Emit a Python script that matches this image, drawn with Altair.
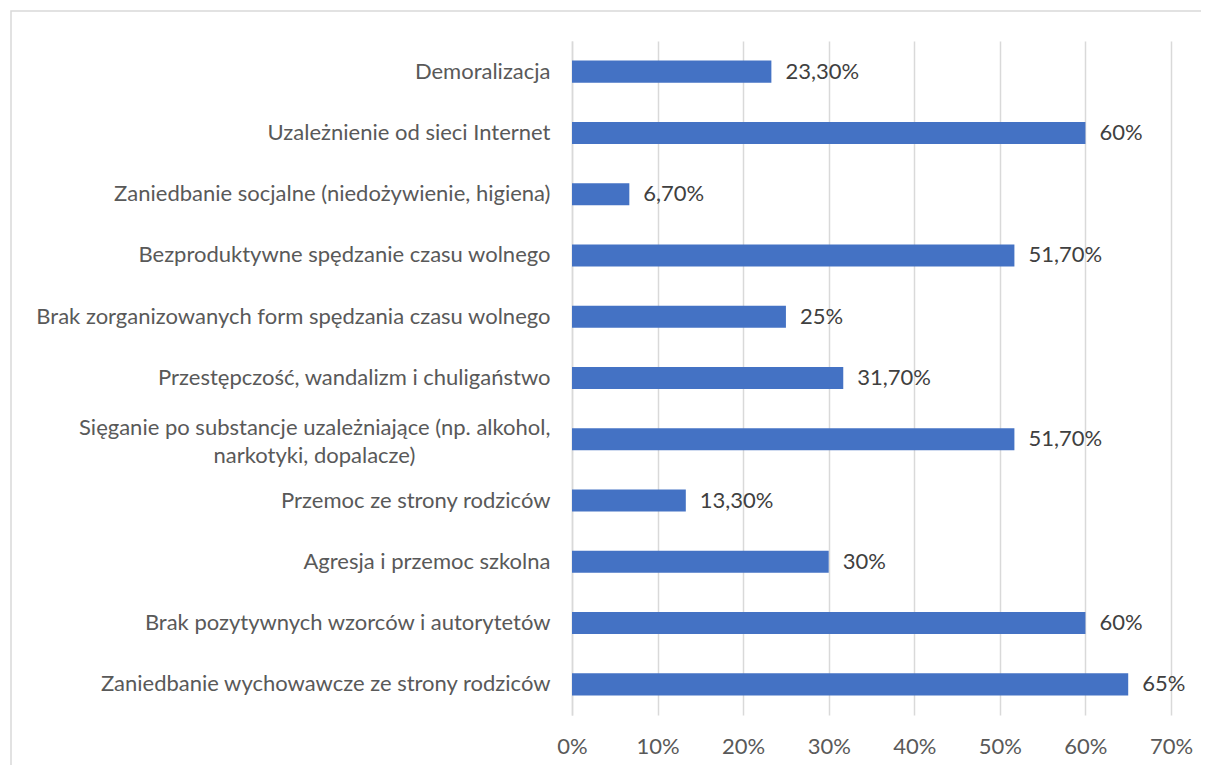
import altair as alt
import pandas as pd

NB = "\u00a0"
LONG = ("Sięganie po substancje uzależniające (np. alkohol,\nnarkotyki, dopalacze)"
        + NB * 24 + "\u2060")

categories = [
    "Demoralizacja",
    "Uzależnienie od sieci Internet",
    "Zaniedbanie socjalne (niedożywienie, higiena)",
    "Bezproduktywne spędzanie czasu wolnego",
    "Brak zorganizowanych form spędzania czasu wolnego",
    "Przestępczość, wandalizm i chuligaństwo",
    LONG,
    "Przemoc ze strony rodziców",
    "Agresja i przemoc szkolna",
    "Brak pozytywnych wzorców i autorytetów",
    "Zaniedbanie wychowawcze ze strony rodziców",
]
values = [23.3, 60, 6.7, 51.7, 25, 31.7, 51.7, 13.3, 30, 60, 65]
x_ticks = [0, 10, 20, 30, 40, 50, 60, 70]


def fmt(v):
    if float(v).is_integer():
        return f"{int(v)}%"
    return f"{v:.2f}%".replace(".", ",")


df = pd.DataFrame({
    "category": categories,
    "value": values,
    "label": [fmt(v) for v in values],
})

FONT = "Lato"
GRID = "#d9d9d9"
FS = 22

base = alt.Chart(df)

bars = base.mark_bar(color="#4472C4").encode(
    x=alt.X(
        "value:Q",
        scale=alt.Scale(domain=[0, 70], nice=False, zero=True),
        axis=alt.Axis(
            values=x_ticks,
            labelExpr="datum.value + '%'",
            title=None,
            grid=True,
            gridColor=GRID,
            gridWidth=1.5,
            domain=False,
            ticks=False,
            labelFlush=False,
            labelPadding=21,
            labelFont=FONT,
            labelFontSize=FS,
            labelColor="#595959",
        ),
    ),
    y=alt.Y(
        "category:N",
        sort=categories,
        scale=alt.Scale(paddingInner=0.64, paddingOuter=0.32),
        axis=alt.Axis(
            title=None,
            domain=True,
            domainColor=GRID,
            domainWidth=1.5,
            ticks=False,
            labelPadding=22,
            labelLimit=1000,
            labelFont=FONT,
            labelFontSize=FS,
            labelColor="#595959",
            labelLineHeight=28,
            labelExpr="split(datum.label, '\\n')",
            labelOffset=alt.condition(
                alt.datum.value == LONG, alt.value(-11), alt.value(0)
            ),
        ),
    ),
)

texts = base.mark_text(
    align="left", baseline="middle", dx=14, font=FONT, fontSize=FS, color="#404040"
).encode(
    x="value:Q",
    y=alt.Y("category:N", sort=categories),
    text="label:N",
)

frame = alt.Chart(pd.DataFrame({"a": [0]})).mark_rect(
    fill=None, stroke=GRID, strokeWidth=1.5, clip=False
).encode(
    x=alt.value(-561), x2=alt.value(660), y=alt.value(-30), y2=alt.value(760)
)

chart = alt.layer(frame, bars, texts).properties(
    width=599,
    height=674,
    autosize=alt.AutoSizeParams(type="none"),
    padding={"left": 564, "top": 33, "right": 30, "bottom": 50},
).configure_view(stroke=None)

chart.save("out.html", embed_options={"renderer": "svg", "actions": False})
